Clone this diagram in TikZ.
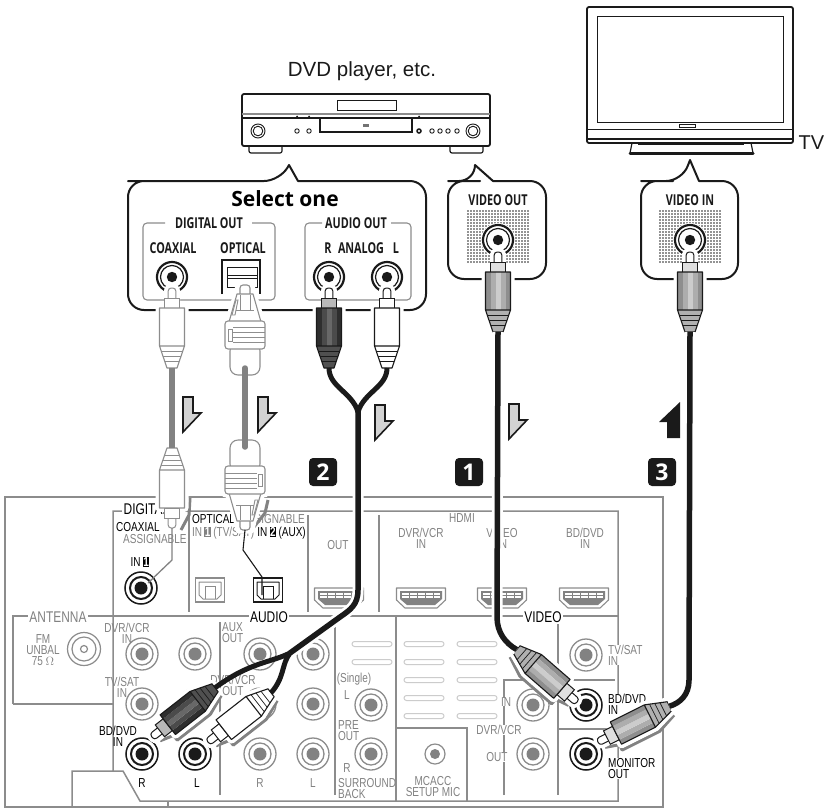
\documentclass[tikz,border=0pt]{standalone}
\usepackage{fontspec}
\setmainfont{Liberation Sans}
\newfontfamily\pf[FakeStretch=.77]{Liberation Sans}
\newfontfamily\cb[FakeStretch=.72]{Open Sans}
\newfontfamily\ob{Open Sans}
\definecolor{pl}{HTML}{8C8C8C}
\definecolor{pt}{HTML}{828282}
\definecolor{ink}{HTML}{1A1A1A}
\definecolor{arrowfill}{HTML}{D2D2D2}
\definecolor{gA}{HTML}{8E8E8E}\definecolor{gB}{HTML}{CCCCCC}\definecolor{gC}{HTML}{B0B0B0}
\definecolor{dA}{HTML}{2E2E2E}\definecolor{dB}{HTML}{686868}\definecolor{dC}{HTML}{505050}
\tikzset{
 x=1pt,y=-1pt,
 pg/.style={text=pt,font=\pf\fontsize{13}{11}\selectfont,inner sep=0pt,align=center},
 pk/.style={text=black,font=\pf\fontsize{13}{11}\selectfont,inner sep=0pt,align=center},
 hd/.style={font=\pf\fontsize{15.5}{15}\selectfont,fill=white,inner sep=1.5pt},
 cl/.style={text=ink,font=\cb\bfseries\fontsize{15}{15}\selectfont,inner sep=0pt},
 panel/.style={draw=pl,line width=1.5pt},
 callout/.style={draw=ink,line width=2pt,fill=white,line join=round},
 badge/.style={fill=ink,rounded corners=4pt,text=white,minimum size=28pt,inner sep=0pt,font=\ob\bfseries\fontsize{23}{23}\selectfont},
 dn/.style={draw=ink,line width=1.6pt,fill=arrowfill,line join=miter},
 slot/.style={draw=black!20,line width=1pt,rounded corners=2.5pt},
 cable/.style={draw=ink,line width=5.5pt},
 halo/.style={draw=white,line width=11pt},
 grey cable/.style={draw=pt,line width=5.5pt,line cap=round},
}
\newcommand{\tx}[5]{\node[#4] (#1) at (#2,#3) {#5};}
\newcommand{\gj}[3]{%
 \coordinate (#1) at (#2,#3);
 \draw[pl,line width=1.3pt] (#1) circle[radius=16pt] (#1) circle[radius=11pt];
 \fill[pt] (#1) circle[radius=6.5pt];}
\newcommand{\bj}[3]{%
 \coordinate (#1) at (#2,#3);
 \draw[ink,line width=1.5pt] (#1) circle[radius=16pt];
 \draw[ink,line width=2pt] (#1) circle[radius=11pt];
 \fill[ink] (#1) circle[radius=6.5pt];}
\newcommand{\tj}[3]{%
 \coordinate (#1) at (#2,#3);
 \fill[white] (#1) circle[radius=17pt];
 \draw[ink,line width=2.2pt] (#1) ++(-60:15pt) arc[start angle=-60,end angle=240,radius=15pt];
 \draw[ink,line width=1.2pt] (#1) circle[radius=11.5pt];
 \fill[ink] (#1) circle[radius=5.2pt];}
\newcommand{\hdmi}[2]{%
 \begin{scope}[shift={(#1,#2)}]
 \draw[pl,line width=1.1pt,line join=round] (-24.5,-10)--(24.5,-10)--(24.5,2)--(16,10)--(-16,10)--(-24.5,2)--cycle;
 \fill[pt] (-21,-7)--(21,-7)--(21,1)--(14,7)--(-14,7)--(-21,1)--cycle;
 \fill[white] (-19,-5.5) rectangle (19,0);
 \draw[pt,line width=.6pt] (-19,-2.5)--(19,-2.5);
 \foreach \k in {-12,-4,4,12}{\draw[pt,line width=.6pt] (\k,-5.5)--(\k,0);}
 \end{scope}}
\newcommand{\optj}[3]{%
 \begin{scope}[shift={(#1,#2)}]
 \draw[#3,line width=1.2pt] (-14.5,-12) rectangle (14.5,12);
 \draw[#3,line width=1pt,line join=round] (-11,-8)--(11,-8)--(11,5)--(7,9)--(-7,9)--(-11,5)--cycle;
 \draw[#3,line width=1pt] (-5,9)--(-5,-4)--(5,-4)--(5,9);
 \end{scope}}
% name,x,y,angle,outline,edge,centre,taper
\newcommand{\rcaplug}[8]{%
 \begin{scope}[shift={(#2,#3)},rotate=#4]
 \coordinate (#1) at (0,0);
 \coordinate (#1-end) at (0,80);
 \filldraw[white,line width=8pt,line join=round] (-12.5,20)--(12.5,20)--(12.5,58)--(5,80)--(-5,80)--(-12.5,58)--cycle;
 \filldraw[white,line width=8pt,rounded corners=3pt] (-4,0)--(4,0)--(4,20)--(-4,20)--cycle;
 \filldraw[fill=white,draw=#5,line width=1pt,rounded corners=3pt] (-3.8,0)--(3.8,0)--(3.8,13)--(-3.8,13)--cycle;
 \filldraw[fill=#8!40!white,draw=#5,line width=1pt] (-7.5,10)--(7.5,10)--(7.5,20)--(-7.5,20)--cycle;
 \foreach \i/\c in {0/0,1/50,2/100,3/50,4/0}{\fill[#7!\c!#6] (-12.5+5*\i,20) rectangle (-7.5+5*\i,58);}
 \fill[#8] (-12.5,58)--(12.5,58)--(5,80)--(-5,80)--cycle;
 \draw[#5,line width=1.1pt,line join=round] (-12.5,20)--(12.5,20)--(12.5,58)--(5,80)--(-5,80)--(-12.5,58)--cycle (-12.5,58)--(12.5,58);
 \draw[#5,line width=.7pt] (-10.8,63)--(10.8,63) (-9.1,68)--(9.1,68) (-7.4,73)--(7.4,73);
 \end{scope}}
\newcommand{\plugshade}[4]{%
 \begin{scope}[shift={(#1,#2)},rotate=#3]
 \draw[pt,line width=3pt,line join=round] (#4*8,4)--(#4*12,18)--(#4*18,18)--(#4*18,60)--(#4*10,80);
 \end{scope}}
\newcommand{\optplug}[4]{%
 \begin{scope}[shift={(#2,#3)},rotate=#4]
 \coordinate (#1) at (0,0);
 \coordinate (#1-end) at (0,83);
 \filldraw[white,line width=7pt,line join=round] (-6,0)--(6,0)--(8,9)--(17,37)--(20,36)--(20,62)--(15,62)--(15,90)--(-15,90)--(-15,62)--(-20,62)--(-20,36)--(-17,37)--(-8,9)--cycle;
 \filldraw[fill=white,draw=gA,line width=1.1pt,rounded corners=8pt] (-15,58)--(15,58)--(15,90)--(-15,90)--cycle;
 \filldraw[fill=white,draw=gA,line width=1.1pt,rounded corners=3pt] (-5,0)--(5,0)--(5,12)--(-5,12)--cycle;
 \filldraw[fill=white,draw=gA,line width=1.1pt,line join=round] (-8,9)--(8,9)--(16,37)--(-16,37)--cycle;
 \draw[gA,line width=.9pt] (-5,10)--(-5,25) (5,10)--(5,25) (-9,25)--(9,25);
 \draw[gA,line width=.9pt] (-13,30)--(-9,15)--(-7,15)--(-10,30)--cycle;
 \filldraw[fill=white,draw=gA,line width=1.1pt,rounded corners=3pt] (-20,36)--(20,36)--(20,64)--(-20,64)--cycle;
 \foreach \k in {42,47,52,57}{\draw[gA,line width=1pt] (-12,\k)--(20,\k);}
 \draw[gA,line width=.9pt] (-17,44)--(-13,44)--(-13,56)--(-17,56)--cycle;
 \end{scope}}
\newcommand{\stepdown}[3]{%
 \begin{scope}[shift={(#2,#3)}]
 \filldraw[dn] (0,0)--(10,0)--(10,16)--(18,16)--(0,35)--cycle;
 \coordinate (#1) at (9,18);
 \end{scope}}
\newcommand{\dotpatch}[4]{%
 \fill[black!85] \foreach \px in {#1,\the\numexpr#1+3\relax,...,#3}{\foreach \py in {#2,\the\numexpr#2+3\relax,...,#4}{(\px,\py) circle[radius=.85pt]}};}
\begin{document}
\begin{tikzpicture}
\useasboundingbox (0,0) rectangle (826,809);
\fill[white] (0,0) rectangle (826,809);

% ---------- rear panel lines
\draw[panel] (5,497)--(663,497)--(663,807)--(5,807)--cycle;
\draw[panel] (113,771)--(113,511)--(618,511)--(618,801)--(140,801)--(123,771)--(72,771)--(72,807);
\draw[panel] (168,801)--(168,807);
\draw[panel] (13,704)--(13,616)--(618,616);
\draw[panel] (13,704)--(113,704);
\draw[panel] (189,513)--(189,612) (308,515)--(308,612) (379,515)--(379,612);
\draw[panel] (220,622)--(220,795) (335,616)--(335,795) (396,616)--(396,801);
\draw[panel] (396,728)--(467,728)--(467,801);
\draw[panel] (504,795)--(504,680)--(615,680) (558,616)--(558,795) (558,729)--(618,729);

% ---------- panel slots
\foreach \sy in {644,662}{\draw[slot] (352,\sy-2.5) rectangle (392,\sy+2.5);}
\foreach \sy in {644,662,680,698,716}{\draw[slot] (404,\sy-2.5) rectangle (444,\sy+2.5);\draw[slot] (457,\sy-2.5) rectangle (497,\sy+2.5);}

% ---------- panel connectors
\gj{ja}{142}{654}\gj{jb}{195}{654}\gj{jc}{260}{654}\gj{jd}{313}{654}
\gj{je}{142}{704}\gj{jf}{195}{704}\gj{jg}{260}{704}\gj{jh}{313}{704}
\gj{ji}{260}{754}\gj{jj}{313}{754}
\gj{jk}{371}{705}\gj{jl}{371}{754}
\gj{jm}{586}{655}\gj{jn}{533}{705}\gj{jo}{533}{754}
\bj{jbdr}{142}{754}\bj{jbdl}{195}{754}\bj{jcoax}{141}{588}\bj{jbdv}{586}{705}\bj{jmon}{586}{754}
\coordinate (jfm) at (84,649);
\draw[pl,line width=1.2pt] (jfm) circle[radius=16.5pt] (jfm) circle[radius=12pt] (jfm) circle[radius=3.5pt];
\coordinate (jmic) at (435,754);
\draw[pl,line width=1.2pt] (jmic) circle[radius=10pt];
\fill[pt] (jmic) circle[radius=5pt];
\hdmi{339}{598}\hdmi{421}{598}\hdmi{502}{598}\hdmi{584}{598}
\optj{210}{590}{pl}\optj{268}{590}{ink}

% ---------- panel text
\tx{tdig}{122}{509}{hd,anchor=west,text=black}{DIGITAL}
\tx{tco}{116}{527}{pk,anchor=west}{COAXIAL}
\tx{tas1}{123}{539}{pg,anchor=west}{ASSIGNABLE}
\tx{tin1}{140}{562}{pk}{IN\,\setlength{\fboxsep}{.6pt}\colorbox{black}{\textcolor{white}{\bfseries 1}}}
\tx{top}{192}{519}{pk,anchor=west}{OPTICAL}
\tx{tas2}{305}{519}{pg,anchor=east}{ASSIGNABLE}
\tx{tin1b}{192}{533}{pg,anchor=west}{IN\,\setlength{\fboxsep}{.6pt}\colorbox{pt}{\textcolor{white}{\bfseries 1}}\,(TV/SAT)}
\tx{tin2}{306}{533}{pk,anchor=east}{IN\,\setlength{\fboxsep}{.6pt}\colorbox{black}{\textcolor{white}{\bfseries 2}}\,(AUX)}
\tx{tout}{338}{545}{pg}{OUT}
\tx{thd}{462}{518}{pg}{HDMI}
\tx{tdv}{421}{538.5}{pg}{DVR/VCR\\IN}
\tx{tvi}{502}{538.5}{pg}{VIDEO\\IN}
\tx{tbd}{585}{538.5}{pg}{BD/DVD\\IN}
\tx{tant}{58}{617}{hd,text=pt}{ANTENNA}
\tx{taud}{269}{617}{hd,text=black}{AUDIO}
\tx{tvid}{543}{617}{hd,text=black}{VIDEO}
\tx{tfm}{43}{650}{pg}{FM\\UNBAL\\75 $\Omega$}
\tx{taux}{222}{633}{pg,anchor=west,align=left}{AUX\\OUT}
\tx{tdv2}{127}{633.5}{pg}{DVR/VCR\\IN\hspace{14pt}}
\tx{tts}{122}{687.5}{pg}{TV/SAT\\IN\hspace{4pt}}
\tx{tbd2}{118}{736}{pk}{BD/DVD\\IN\hspace{8pt}}
\tx{tr1}{142}{783}{pk}{R}
\tx{tl1}{197}{783}{pk}{L}
\tx{tr2}{260}{783}{pg}{R}
\tx{tl2}{313}{783}{pg}{L}
\tx{tdv3}{233}{685}{pg}{DVR/VCR\\OUT}
\tx{tsin}{354}{679}{pg}{(Single)}
\tx{tsl}{347}{695}{pg}{L}
\tx{tpre}{338}{731}{pg,anchor=west,align=left}{PRE\\OUT}
\tx{tsr}{347}{768}{pg}{R}
\tx{tsur}{338}{789}{pg,anchor=west,align=left}{SURROUND\\BACK}
\tx{tin3}{506}{702}{pg,fill=white}{IN}
\tx{tdv4}{499}{730}{pg,fill=white}{DVR/VCR}
\tx{tout4}{497}{757}{pg,fill=white}{OUT}
\tx{tts2}{608}{655}{pg,anchor=west,align=left,fill=white}{TV/SAT\\IN}
\tx{tbd3}{608}{704}{pk,anchor=west,align=left,fill=white}{BD/DVD\\IN}
\tx{tmon}{608}{768.5}{pk,anchor=west,align=left,fill=white}{MONITOR\\OUT}
\tx{tmc}{433}{786.5}{pg}{MCACC\\SETUP MIC}

% ---------- DVD player
\draw[ink,line width=1.8pt,rounded corners=2pt] (242,94) rectangle (490,146);
\draw[pl,line width=1.2pt] (242,114)--(490,114);
\draw[ink,line width=1.2pt] (242,118)--(490,118);
\draw[ink,line width=.9pt] (337,100) rectangle (396,110);
\draw[ink,line width=1.4pt] (320,118)--(320,132)--(412,132)--(412,118);
\fill[black!55] (363,123.5) rectangle (369,126.5);
\draw[ink,line width=1.2pt,rounded corners=2pt] (249,146)--(249,153)--(282,153)--(282,146);
\draw[ink,line width=1.2pt,rounded corners=2pt] (450,146)--(450,153)--(483,153)--(483,146);
\foreach \kx in {258,473}{\draw[ink,line width=.9pt] (\kx,131) circle[radius=7pt] (\kx,131) circle[radius=4.8pt];}
\foreach \kx in {297,309,432,440,448,457}{\draw[ink,line width=.9pt] (\kx,131) circle[radius=2.2pt];}
\draw[ink,line width=1.5pt] (419,131) circle[radius=2pt];
\foreach \kx in {297,309,419}{\fill[ink] (\kx,116.5) circle[radius=1pt];}
\tx{tdvd}{362}{71}{text=ink,font=\fontsize{20.5}{21}\selectfont,inner sep=0pt}{DVD player, etc.}

% ---------- TV
\draw[ink,line width=1.8pt,rounded corners=2pt] (587,7) rectangle (793,143);
\draw[ink,line width=.9pt] (597,16) rectangle (783,122);
\draw[ink,line width=.9pt] (587,129)--(793,129);
\draw[ink,line width=1.4pt] (587,139)--(793,139);
\draw[ink,line width=.8pt] (679,124) rectangle (695,127);
\draw[ink,line width=1.2pt] (632,143)--(630,153) (751,143)--(753,153);
\draw[ink,line width=3pt,line cap=round] (630,153)--(753,153);
\draw[ink,line width=1pt] (638,144)--(744,144);
\tx{ttv}{811.5}{143}{text=ink,font=\fontsize{20}{20}\selectfont,inner sep=0pt}{TV}

% ---------- callouts
\draw[callout,rounded corners=16pt] (144,181)--(280,181) [sharp corners]--(289,165)--(298,181) [rounded corners=16pt]--(426,181)--(426,310)--(128,310)--(128,181)--cycle;
\draw[callout,rounded corners=16pt] (464,181)--(475,181) [sharp corners]--(475,165)--(493,181) [rounded corners=16pt]--(546,181)--(546,279)--(448,279)--(448,181)--cycle;
\draw[callout,rounded corners=16pt] (657,181)--(682,181) [sharp corners]--(690,160)--(699,181) [rounded corners=16pt]--(738,181)--(738,279)--(641,279)--(641,181)--cycle;
\tx{tsel}{285}{199}{text=black,font=\ob\bfseries\fontsize{21}{21}\selectfont,inner sep=0pt}{Select one}
\draw[pl,line width=1.1pt,rounded corners=4pt] (165,223)--(143,223)--(143,300)--(275,300)--(275,223)--(252,223);
\draw[pl,line width=1.1pt,rounded corners=4pt] (322,223)--(305,223)--(305,300)--(411,300)--(411,223)--(391,223);
\tx{tdo}{209}{223}{cl}{DIGITAL OUT}
\tx{tao}{356}{223}{cl}{AUDIO OUT}
\tx{tcx}{173}{248}{cl}{COAXIAL}
\tx{tox}{243}{248}{cl}{OPTICAL}
\tx{trr}{328}{248}{cl}{R}
\tx{tan}{361}{248}{cl}{ANALOG}
\tx{tll}{396}{248}{cl}{L}
\tx{tvo}{498}{200}{cl}{VIDEO OUT}
\tx{tvn}{690}{200}{cl}{VIDEO IN}
\dotpatch{468}{211}{528}{263}
\dotpatch{660}{211}{720}{263}
\tj{jdc}{172}{277}\tj{jar}{329}{277}\tj{jal}{387}{277}\tj{jvo}{498}{240}\tj{jvi}{690}{240}
\draw[ink,line width=2pt] (222,294)--(222,260)--(260,260)--(260,294);
\draw[ink,line width=1pt] (227,287)--(227,267)--(257,267)--(257,287)--cycle (227,275)--(257,275) (227,278)--(257,278);

% ---------- arrows
\stepdown{a1}{183}{397}\stepdown{a2}{258}{397}\stepdown{a3}{375}{405}\stepdown{a4}{509}{404}
\fill[ink] (680,402)--(659,422)--(667,422)--(667,438)--(680,438)--cycle;
\node[badge] (n2) at (323,472) {2};
\node[badge] (n1) at (469,472) {1};
\node[badge] (n3) at (662,472) {3};

% ---------- thin leads to the jacks
\coordinate (leadA) at (172,560);
\coordinate (leadC) at (148,583);
\coordinate (leadB) at (243,550);
\draw[pt,line width=3pt,line join=round] (190,498)--(189,515)--(181,530);
\draw[pt,line width=3pt,line join=round] (268,500)--(265,513)--(250,532);

% ---------- plugs and cables
\rcaplug{pc1}{172}{288}{0}{pl}{white}{white}{white}
\rcaplug{pc2}{172}{528}{180}{gA}{white}{white}{white}
\draw[pt,line width=1.3pt,line join=round] (pc2)--(leadA)--(leadC);
\draw[pt,line width=5.5pt] (pc1-end)--(pc2-end);
\optplug{po1}{245}{285}{0}
\optplug{po2}{245}{530}{180}
\draw[ink,line width=1.1pt,line join=round] (po2)--(leadB)--(262,577)--(262,595);
\draw[grey cable] (po1-end)--(po2-end);

% audio Y cable
\plugshade{152}{737}{128}{-1}
\plugshade{208}{742}{128}{-1}
\coordinate (y1) at (358,412);
\coordinate (y2) at (290,653);
\coordinate (bendA) at (340,617);
\rcaplug{pa1}{329}{288}{0}{ink}{dA}{dB}{dC}
\rcaplug{pa2}{387}{288}{0}{ink}{white}{white}{white}
\rcaplug{pb1}{152}{737}{128}{ink}{dA}{dB}{dC}
\rcaplug{pb2}{208}{742}{128}{ink}{white}{white}{white}
\draw[halo] (y1)--(358,590) .. controls (358,605) and (350,610) .. (bendA)--(y2);
\draw[cable] (y1)--(358,590) .. controls (358,605) and (350,610) .. (bendA)--(y2);
\draw[ink,line width=5pt] (pa1-end) .. controls (329,387) and (352,392) .. (y1);
\draw[ink,line width=5pt] (pa2-end) .. controls (387,387) and (364,392) .. (y1);
\draw[ink,line width=5pt] (y2) .. controls (270,663) and (250,662) .. (pb1-end);
\draw[ink,line width=5pt] (y2) .. controls (281,665) and (285,677) .. (pb2-end);

% video cable 1
\plugshade{577}{702}{229}{1}
\rcaplug{pv1}{498}{252}{0}{ink}{gA}{gB}{gC}
\rcaplug{pv2}{577}{702}{229}{ink}{gA}{gB}{gC}
\draw[halo] (pv1-end)--(497,617) .. controls (497,632) and (505,643) .. (pv2-end);
\draw[cable] (pv1-end)--(497,617) .. controls (497,632) and (505,643) .. (pv2-end);

% video cable 3
\plugshade{598}{742}{116.6}{-1}
\rcaplug{pv3}{690}{252}{0}{ink}{gA}{gB}{gC}
\rcaplug{pv4}{598}{742}{116.6}{ink}{gA}{gB}{gC}
\draw[halo] (pv3-end)--(689,680) .. controls (689,695) and (680,703) .. (pv4-end);
\draw[cable] (pv3-end)--(689,680) .. controls (689,695) and (680,703) .. (pv4-end);
\end{tikzpicture}
\end{document}
